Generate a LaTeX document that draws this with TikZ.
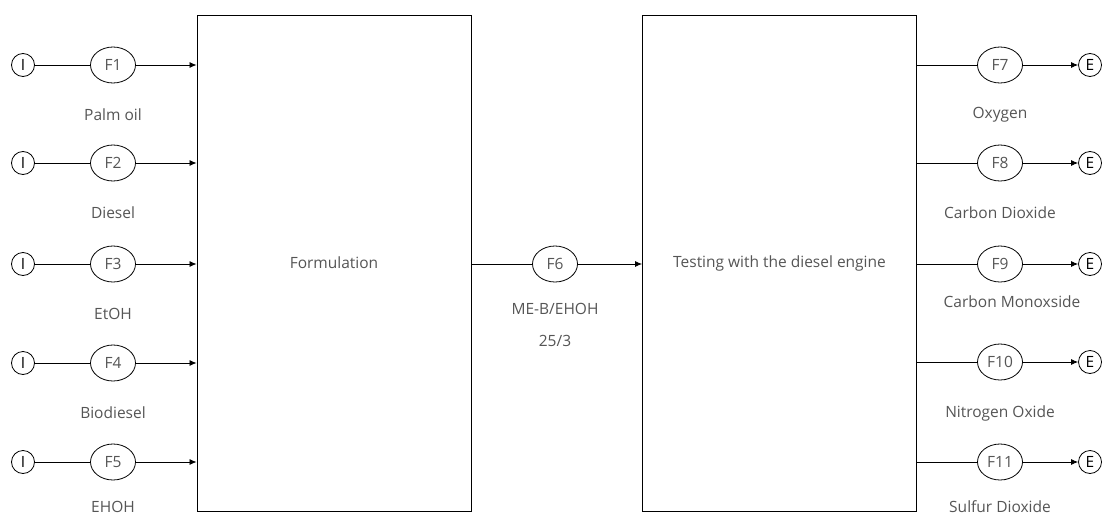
\documentclass[tikz,border=0pt]{standalone}
\usepackage{fontspec}
\setmainfont{Open Sans}
\usetikzlibrary{arrows.meta,shapes.geometric}
\definecolor{txt}{HTML}{555555}
\begin{document}
\begin{tikzpicture}[x=1pt,y=-1pt,
  every node/.style={font=\fontsize{15.5}{18}\selectfont, text=txt},
  stream/.style={ellipse,draw,line width=0.8pt,minimum width=45pt,minimum height=36pt,inner sep=0pt},
  term/.style={circle,draw,line width=0.8pt,minimum size=23pt,inner sep=0pt,text=black},
  proc/.style={rectangle,draw,line width=0.9pt,minimum width=274pt,minimum height=496pt,inner sep=0pt},
  lab/.style={},
  conn/.style={line width=0.8pt},
  arr/.style={line width=0.8pt,-{Latex[length=7pt,width=6pt]}}]
\useasboundingbox (0,0) rectangle (1102,519);
\node[proc] (form) at (334,263) {Formulation};
\node[proc] (test) at (779.5,263) {Testing with the diesel engine};
% inputs
\foreach \i/\y/\ly/\name in {1/65/115/Palm oil,2/163/213/Diesel,3/264/314/EtOH,4/363/413/Biodiesel,5/462/507/EHOH}{
  \node[term] (I\i) at (23,\y) {I};
  \node[stream] (F\i) at (113,\y) {F\i};
  \node[lab] (L\i) at (113,\ly) {\name};
  \draw[conn] (I\i) -- (F\i);
  \draw[arr] (F\i) -- (F\i -| form.west);
}
% middle
\node[stream] (F6) at (555,264) {F6};
\node[lab] (L6a) at (555,309) {ME-B/EHOH};
\node[lab] (L6b) at (555,341) {25/3};
\draw[conn] (form.east |- F6) -- (F6);
\draw[arr] (F6) -- (F6 -| test.west);
% outputs
\foreach \i/\y/\ly/\lx/\name in {7/65/115/1000/Oxygen,8/163/213/1000/Carbon Dioxide,9/264/302/1012/Carbon Monoxside,10/362/413/1000/Nitrogen Oxide,11/462/507/1000/Sulfur Dioxide}{
  \node[stream] (F\i) at (1000,\y) {F\i};
  \node[term] (E\i) at (1090,\y) {E};
  \node[lab] (L\i) at (\lx,\ly) {\name};
  \draw[conn] (test.east |- F\i) -- (F\i);
  \draw[arr] (F\i) -- (E\i);
}
\end{tikzpicture}
\end{document}
